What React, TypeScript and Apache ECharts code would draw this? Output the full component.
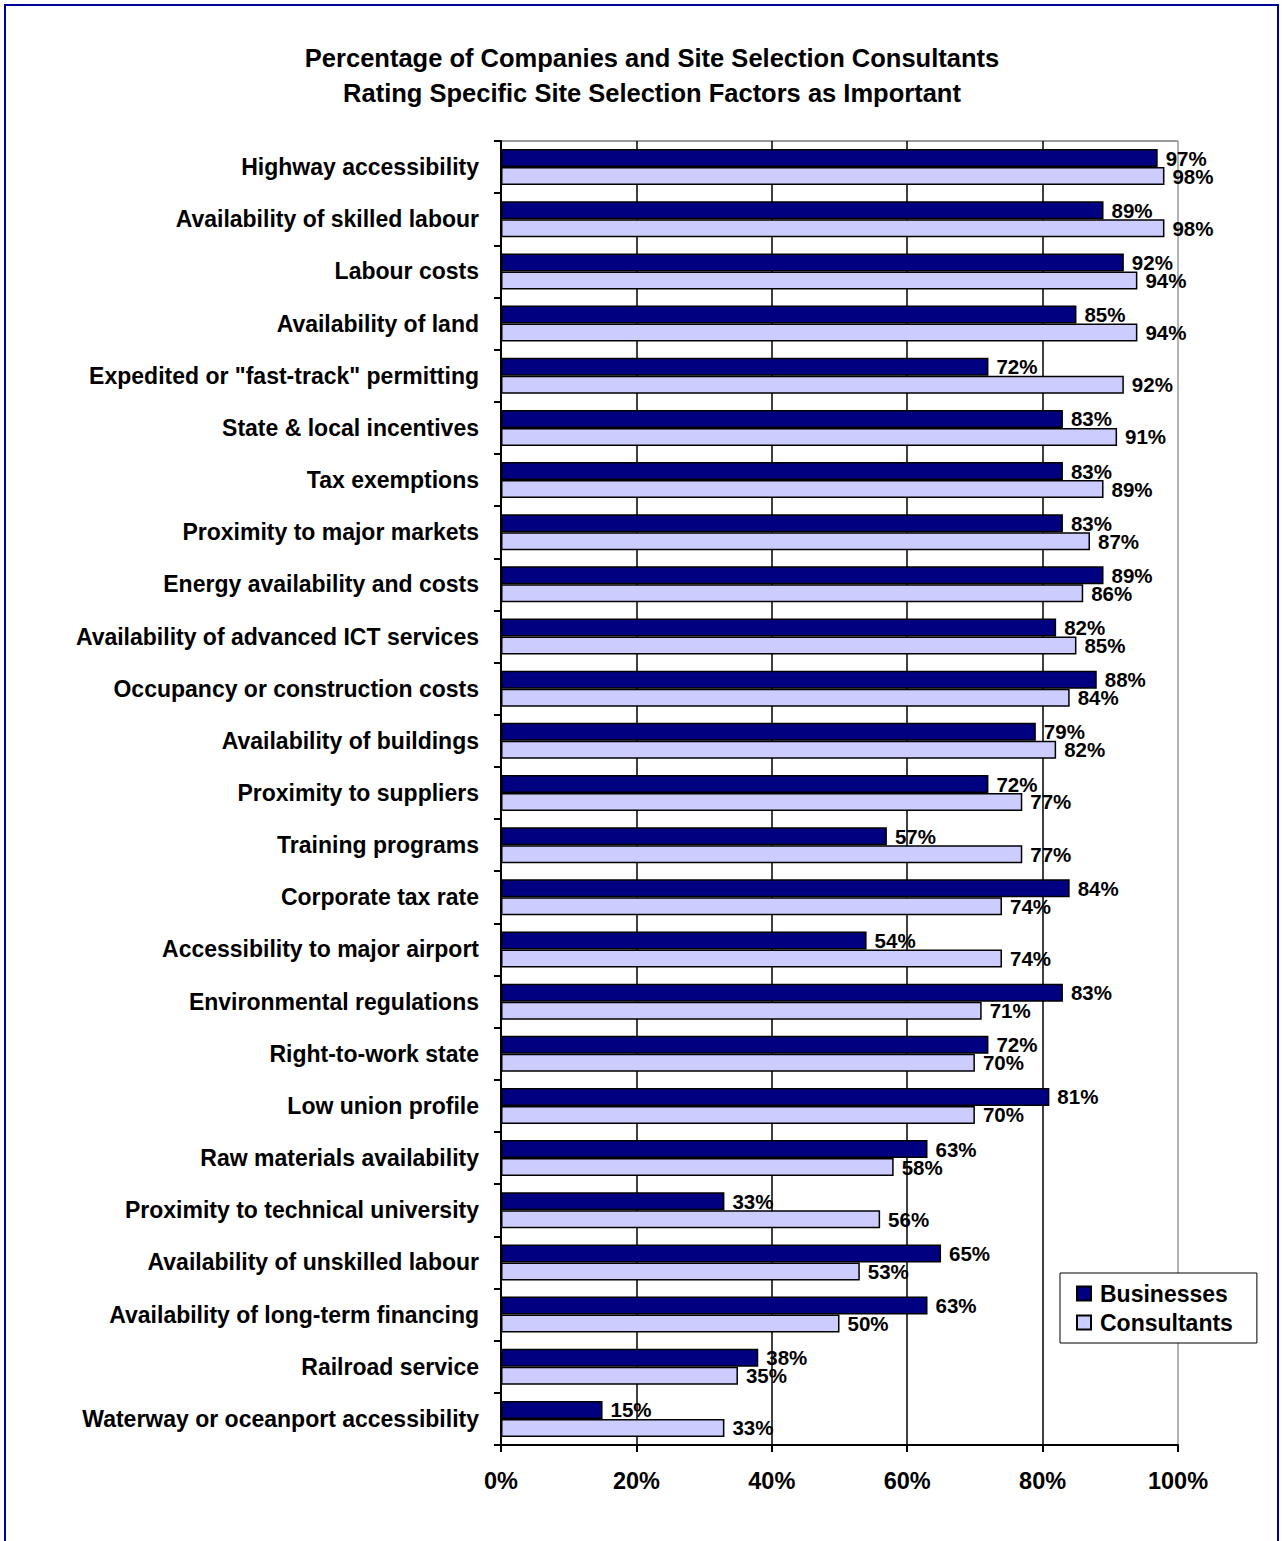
import React, { useEffect, useRef } from "react";
import * as echarts from "echarts";

const categories = [
  "Highway accessibility",
  "Availability of skilled labour",
  "Labour costs",
  "Availability of land",
  'Expedited or "fast-track" permitting',
  "State & local incentives",
  "Tax exemptions",
  "Proximity to major markets",
  "Energy availability and costs",
  "Availability of advanced ICT services",
  "Occupancy or construction costs",
  "Availability of buildings",
  "Proximity to suppliers",
  "Training programs",
  "Corporate tax rate",
  "Accessibility to major airport",
  "Environmental regulations",
  "Right-to-work state",
  "Low union profile",
  "Raw materials availability",
  "Proximity to technical university",
  "Availability of unskilled labour",
  "Availability of long-term financing",
  "Railroad service",
  "Waterway or oceanport accessibility",
];

const businesses = [97, 89, 92, 85, 72, 83, 83, 83, 89, 82, 88, 79, 72, 57, 84, 54, 83, 72, 81, 63, 33, 65, 63, 38, 15];
const consultants = [98, 98, 94, 94, 92, 91, 89, 87, 86, 85, 84, 82, 77, 77, 74, 74, 71, 70, 70, 58, 56, 53, 50, 35, 33];

const xTicks = [0, 20, 40, 60, 80, 100];

const FONT = "Liberation Sans, Arial, sans-serif";

export default function App() {
  const ref = useRef<HTMLDivElement>(null);
  useEffect(() => {
    document.body.style.margin = "0";
    const chart = echarts.init(ref.current!, null, { renderer: "svg" });
    const labelStyle = {
      show: true,
      position: "right",
      distance: 8,
      formatter: "{c}%",
      color: "#000",
      fontWeight: "bold",
      fontSize: 20.5,
      fontFamily: FONT,
    };
    chart.setOption({
      animation: false,
      backgroundColor: "#fff",
      title: {
        text: "Percentage of Companies and Site Selection Consultants\nRating Specific Site Selection Factors as Important",
        left: 647,
        top: 35,
        textAlign: "center",
        textStyle: { fontFamily: FONT, fontWeight: "bold", fontSize: 25.5, lineHeight: 35, color: "#000" },
      },
      graphic: [
        { type: "rect", shape: { x: 5, y: 5, width: 1273, height: 1600 }, style: { fill: "none", stroke: "#000099", lineWidth: 2 }, silent: true },
        { type: "line", shape: { x1: 501, y1: 141, x2: 1178, y2: 141 }, style: { stroke: "#999", lineWidth: 2 }, silent: true },
      ],
      legend: {
        orient: "vertical",
        left: 1060,
        top: 1273,
        padding: [9, 24, 9, 16],
        backgroundColor: "#fff",
        borderColor: "#000",
        borderWidth: 1,
        itemWidth: 14,
        itemHeight: 14,
        itemGap: 6,
        icon: "rect",
        textStyle: { fontFamily: FONT, fontWeight: "bold", fontSize: 23, color: "#000", padding: [0, 0, 0, 4] },
        data: ["Businesses", "Consultants"],
      },
      grid: { left: 501, top: 141, width: 677, height: 1304, containLabel: false },
      xAxis: {
        type: "value",
        min: 0,
        max: 100,
        interval: 20,
        axisLine: { show: true, lineStyle: { color: "#000", width: 2 } },
        axisTick: { show: true, length: 7, lineStyle: { color: "#000", width: 2 } },
        axisLabel: {
          margin: 24,
          formatter: (v: number) => (xTicks.includes(v) ? v + "%" : ""),
          fontFamily: FONT,
          fontWeight: "bold",
          fontSize: 23.5,
          color: "#000",
        },
        splitLine: { show: true, lineStyle: { color: ["#000", "#000", "#000", "#000", "#000", "#999"], width: 1.5 } },
      },
      yAxis: {
        type: "category",
        inverse: true,
        data: categories,
        axisLine: { show: true, lineStyle: { color: "#000", width: 2 } },
        axisTick: { show: true, length: 7, lineStyle: { color: "#000", width: 2 } },
        axisLabel: {
          margin: 22,
          fontFamily: FONT,
          fontWeight: "bold",
          fontSize: 23,
          color: "#000",
        },
      },
      series: [
        {
          name: "Businesses",
          type: "bar",
          data: businesses,
          barGap: "0%",
          barCategoryGap: "31%",
          itemStyle: { color: "#000080", borderColor: "#000", borderWidth: 1.5 },
          label: labelStyle,
        },
        {
          name: "Consultants",
          type: "bar",
          data: consultants,
          barGap: "0%",
          barCategoryGap: "31%",
          itemStyle: { color: "#CCCCFF", borderColor: "#000", borderWidth: 1.5 },
          label: labelStyle,
        },
      ],
    });
    return () => chart.dispose();
  }, []);
  return <div ref={ref} style={{ width: 1282, height: 1541 }} />;
}
